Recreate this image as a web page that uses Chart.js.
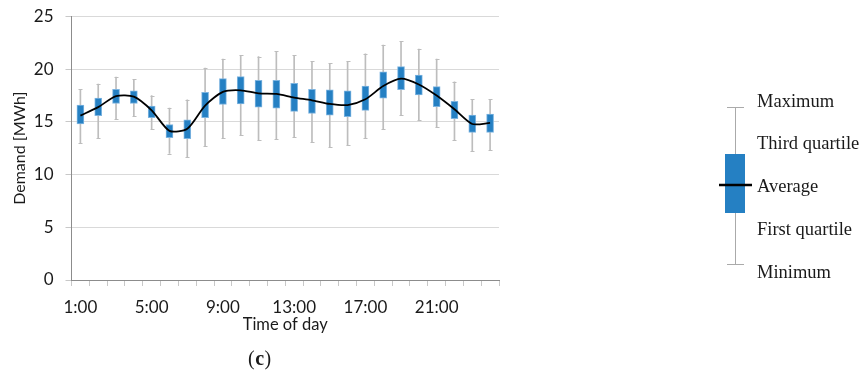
<!DOCTYPE html>
<html>
<head>
<meta charset="utf-8">
<script src="https://cdn.jsdelivr.net/npm/chart.js@4.4.1/dist/chart.umd.min.js"></script>
<style>
  html, body { margin: 0; padding: 0; background: #ffffff; }
  #wrap { position: relative; width: 866px; height: 374px; }
</style>
</head>
<body>
<div id="wrap"><canvas id="c" width="866" height="374"></canvas></div>
<script>
const hours = ['1:00','2:00','3:00','4:00','5:00','6:00','7:00','8:00','9:00','10:00','11:00','12:00',
               '13:00','14:00','15:00','16:00','17:00','18:00','19:00','20:00','21:00','22:00','23:00','24:00'];
const minimum = [13.0,13.45,15.25,15.55,14.35,12.0,11.65,12.7,13.45,13.75,13.25,13.35,13.55,13.1,12.6,12.8,13.45,14.3,15.65,15.15,14.5,13.25,12.2,12.3];
const firstQuartile = [14.8,15.6,16.75,16.75,15.4,13.5,13.4,15.4,16.65,16.7,16.4,16.3,16.0,15.8,15.65,15.5,16.1,17.25,18.05,17.55,16.45,15.3,14.0,14.0];
const average = [15.6,16.4,17.45,17.4,16.1,14.15,14.35,16.55,17.85,18.0,17.7,17.65,17.3,17.05,16.7,16.6,17.15,18.4,19.1,18.55,17.5,16.2,14.8,14.9];
const thirdQuartile = [16.6,17.25,18.1,17.95,16.5,14.75,15.2,17.8,19.1,19.3,18.95,18.95,18.65,18.1,18.05,17.95,18.4,19.75,20.25,19.45,18.35,16.95,15.65,15.75];
const maximum = [18.1,18.6,19.25,19.05,17.5,16.3,17.1,20.1,20.95,21.3,21.2,21.7,21.3,20.75,20.55,20.75,21.45,22.3,22.65,21.9,20.95,18.8,17.15,17.15];
const yTicks = [0, 5, 10, 15, 20, 25];
const legendLabels = ['Maximum', 'Third quartile', 'Average', 'First quartile', 'Minimum'];
const panelLabel = 'c';

const BLUE = '#2580c3';
const WHISKER = '#bdbdbd';

const capPlugin = {
  id: 'caps',
  beforeDatasetsDraw(chart) {
    const ctx = chart.ctx, xs = chart.scales.x, ys = chart.scales.y;
    ctx.save();
    ctx.strokeStyle = WHISKER;
    ctx.lineWidth = 1;
    for (let i = 0; i < hours.length; i++) {
      const x = Math.round(xs.getPixelForValue(i)) + 0.5;
      [minimum[i], maximum[i]].forEach(v => {
        const y = Math.round(ys.getPixelForValue(v)) + 0.5;
        ctx.beginPath(); ctx.moveTo(x - 2, y); ctx.lineTo(x + 2, y); ctx.stroke();
      });
    }
    ctx.restore();
  }
};

const extrasPlugin = {
  id: 'extras',
  afterDraw(chart) {
    const ctx = chart.ctx;
    ctx.save();
    // legend glyph
    ctx.strokeStyle = '#aaaaaa'; ctx.lineWidth = 1;
    ctx.beginPath(); ctx.moveTo(735.5, 107); ctx.lineTo(735.5, 265); ctx.stroke();
    ctx.beginPath(); ctx.moveTo(727, 107.5); ctx.lineTo(744, 107.5); ctx.stroke();
    ctx.beginPath(); ctx.moveTo(727, 264.5); ctx.lineTo(744, 264.5); ctx.stroke();
    ctx.fillStyle = BLUE;
    ctx.fillRect(725, 154, 20, 59);
    ctx.strokeStyle = '#000'; ctx.lineWidth = 2.5;
    ctx.beginPath(); ctx.moveTo(719, 185); ctx.lineTo(752, 185); ctx.stroke();
    ctx.fillStyle = '#1a1a1a';
    ctx.font = '18.5px "Liberation Serif"';
    ctx.textBaseline = 'middle'; ctx.textAlign = 'left';
    const ys = [102, 144, 187, 230, 273];
    legendLabels.forEach((t, i) => ctx.fillText(t, 757, ys[i]));
    // panel label
    ctx.textAlign = 'left';
    ctx.font = '20px "Liberation Serif"';
    const x0 = 248;
    ctx.fillText('(', x0, 360);
    let w = ctx.measureText('(').width;
    ctx.font = 'bold 20px "Liberation Serif"';
    ctx.fillText(panelLabel, x0 + w + 0.5, 360);
    w += ctx.measureText(panelLabel).width + 1;
    ctx.font = '20px "Liberation Serif"';
    ctx.fillText(')', x0 + w, 360);
    ctx.restore();
  }
};

new Chart(document.getElementById('c'), {
  data: {
    labels: hours,
    datasets: [
      {
        type: 'line', data: average, borderColor: '#000', borderWidth: 1.8,
        pointRadius: 0, tension: 0.25, order: 0
      },
      {
        type: 'bar', data: firstQuartile.map((v, i) => [v, thirdQuartile[i]]),
        backgroundColor: BLUE, borderColor: '#7db4e0', borderWidth: 1, borderSkipped: false,
        barThickness: 7, grouped: false, order: 1
      },
      {
        type: 'bar', data: minimum.map((v, i) => [v, maximum[i]]),
        backgroundColor: WHISKER, borderWidth: 0,
        barThickness: 1, grouped: false, order: 2
      }
    ]
  },
  options: {
    responsive: false,
    animation: false,
    layout: { padding: { left: 0, right: 367, top: 16.5, bottom: 39 } },
    plugins: { legend: { display: false }, tooltip: { enabled: false } },
    scales: {
      x: {
        type: 'category',
        offset: true,
        afterFit: (s) => { s.height = 55; },
        grid: { display: true, drawOnChartArea: false, offset: true, tickLength: 6, color: '#c8c8c8' },
        border: { color: '#8c8c8c', width: 1 },
        ticks: {
          autoSkip: false, maxRotation: 0, minRotation: 0, padding: 11,
          color: '#1a1a1a', font: { family: 'Lato', size: 17 },
          callback: function(v, i) { return i % 4 === 0 ? hours[i] : ''; }
        },
        title: { display: true, text: 'Time of day', color: '#1a1a1a', font: { family: 'Lato', size: 16.5 }, padding: { top: 0, bottom: 0 } }
      },
      y: {
        min: 0, max: 25,
        afterFit: (s) => { s.width = 71.5; s.paddingTop = 0; },
        afterBuildTicks: (s) => { s.ticks = yTicks.map(v => ({ value: v })); },
        grid: { color: '#d9d9d9', tickLength: 6, tickColor: '#c8c8c8' },
        border: { color: '#8c8c8c', width: 1 },
        ticks: { padding: 12, color: '#1a1a1a', font: { family: 'Lato', size: 17 } },
        title: { display: true, text: 'Demand [MWh]', color: '#1a1a1a', font: { family: 'Lato', size: 16 }, padding: { top: 10, bottom: 0 } }
      }
    }
  },
  plugins: [capPlugin, extrasPlugin]
});
</script>
</body>
</html>
